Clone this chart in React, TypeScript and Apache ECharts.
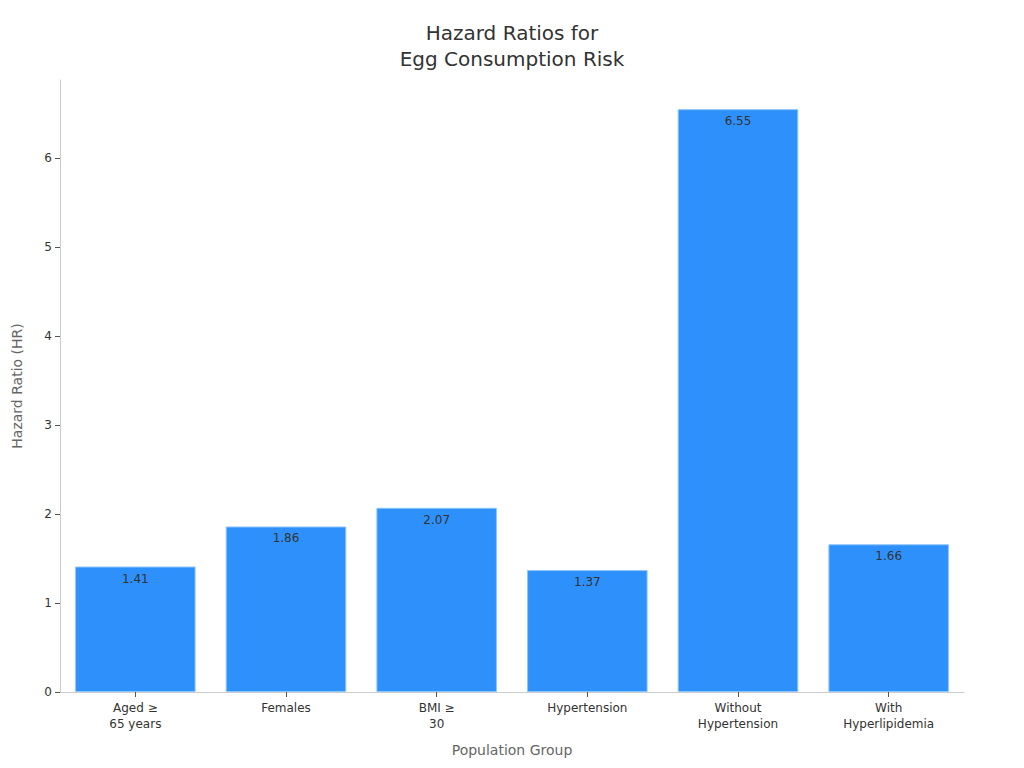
import React, { useEffect, useRef } from "react";
import * as echarts from "echarts";

const categories = ["Aged ≥\n65 years", "Females", "BMI ≥\n30", "Hypertension", "Without\nHypertension", "With\nHyperlipidemia"];
const hazardRatios = [1.41, 1.86, 2.07, 1.37, 6.55, 1.66];
const yTicks = [0, 1, 2, 3, 4, 5, 6];

const FONT = "DejaVu Sans, sans-serif";

export default function App() {
  const ref = useRef<HTMLDivElement>(null);
  useEffect(() => {
    if (!ref.current) return;
    const chart = echarts.init(ref.current, undefined, { renderer: "svg" });
    chart.setOption({
      animation: false,
      textStyle: { fontFamily: FONT },
      title: {
        text: "Hazard Ratios for\nEgg Consumption Risk",
        left: "center",
        top: 15,
        textStyle: { fontFamily: FONT, fontSize: 20, fontWeight: "normal", color: "#333", lineHeight: 26 },
      },
      grid: { left: 60, right: 60, top: 80, bottom: 76, containLabel: false },
      xAxis: {
        type: "category",
        data: categories,
        name: "Population Group",
        nameLocation: "middle",
        nameGap: 51,
        nameTextStyle: { fontFamily: FONT, fontSize: 14, color: "#666" },
        axisLine: { show: true, lineStyle: { color: "#ccc" } },
        axisTick: { show: true, alignWithLabel: true, length: 5, lineStyle: { color: "#555" } },
        axisLabel: { fontFamily: FONT, fontSize: 12, color: "#333", lineHeight: 16, margin: 8 },
      },
      yAxis: {
        type: "value",
        min: 0,
        max: 6.8775,
        interval: 1,
        name: "Hazard Ratio (HR)",
        nameLocation: "middle",
        nameGap: 36,
        nameTextStyle: { fontFamily: FONT, fontSize: 14, color: "#666" },
        axisLine: { show: true, lineStyle: { color: "#ccc" } },
        axisTick: { show: true, length: 5, lineStyle: { color: "#555" }, customValues: yTicks },
        axisLabel: {
          fontFamily: FONT,
          fontSize: 12,
          color: "#333",
          margin: 8,
          customValues: yTicks,
        },
        splitLine: { show: false },
      },
      series: [
        {
          type: "bar",
          data: hazardRatios,
          barCategoryGap: "20%",
          itemStyle: { color: "#2e90fa", borderColor: "#8cc4ff", borderWidth: 1 },
          label: {
            show: true,
            position: "insideTop",
            distance: 6,
            fontFamily: FONT,
            fontSize: 12,
            color: "#333",
            formatter: (p: any) => p.value.toFixed(2),
          },
        },
      ],
    });
    return () => chart.dispose();
  }, []);
  return <div ref={ref} style={{ width: 1024, height: 768, position: "absolute", left: 0, top: 0 }} />;
}
